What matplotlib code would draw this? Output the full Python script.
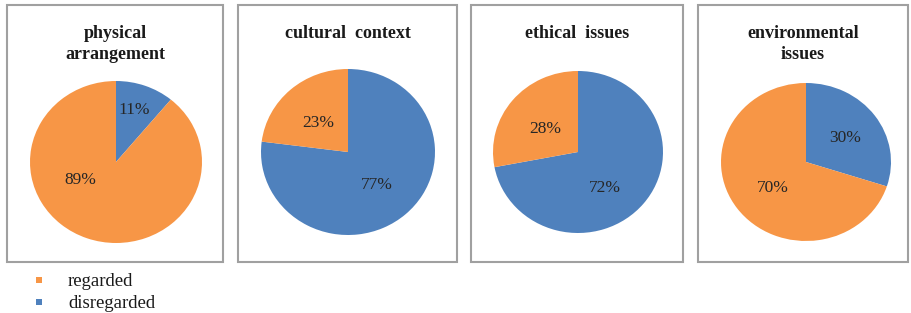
import matplotlib
matplotlib.use('Agg')
import matplotlib.pyplot as plt
from matplotlib.patches import Rectangle

plt.rcParams['font.family'] = ['Liberation Serif', 'DejaVu Serif']

# data
titles = ['physical\narrangement', 'cultural  context', 'ethical  issues', 'environmental\nissues']
regarded = [89, 23, 28, 70]
disregarded = [11, 77, 72, 30]
legend_labels = ['regarded', 'disregarded']
colors = {'regarded': '#F79646', 'disregarded': '#4F81BD'}

W, H = 911, 313
fig = plt.figure(figsize=(W / 100, H / 100), dpi=100)

# layout in pixels: box left/right, pie centre + radii
boxes = [(7, 223), (238, 457), (471, 683), (698, 908)]
pies = [(116, 162, 86, 81), (348, 152, 87, 83), (578, 152, 85, 81), (806, 162, 85, 79)]
# label offsets (disregarded, regarded) in pie-radius units, Excel-style placement
label_pos = [[(0.21, 0.64), (-0.41, -0.22)],
             [(0.33, -0.40), (-0.34, 0.35)],
             [(0.32, -0.44), (-0.39, 0.29)],
             [(0.46, 0.30), (-0.39, -0.33)]]
box_top, box_bottom = 5, 262

for i in range(4):
    l, r = boxes[i]
    fig.patches.append(Rectangle((l / W, 1 - box_bottom / H), (r - l) / W, (box_bottom - box_top) / H,
                                 transform=fig.transFigure, fill=False, edgecolor='#A0A0A0', linewidth=1.5))
    cx = (l + r) / 2
    fig.text(cx / W, 1 - 25 / H, titles[i], ha='center', va='top', fontsize=13,
             fontweight='bold', linespacing=1.28, color='#1a1a1a')

    pcx, pcy, rx, ry = pies[i]
    ax = fig.add_axes([(pcx - rx) / W, 1 - (pcy + ry) / H, 2 * rx / W, 2 * ry / H])
    vals = [disregarded[i], regarded[i]]
    wedges, texts, autotexts = ax.pie(vals, colors=[colors['disregarded'], colors['regarded']],
                                      startangle=90, counterclock=False, autopct='%d%%',
                                      textprops={'fontsize': 12.5, 'color': '#262626'},
                                      wedgeprops={'linewidth': 0})
    for t, p in zip(autotexts, label_pos[i]):
        t.set_position(p)
    ax.set_xlim(-1, 1)
    ax.set_ylim(-1, 1)
    ax.set_aspect('auto')
    ax.axis('off')

# legend
for j, lab in enumerate(legend_labels):
    y = 280 + j * 22
    fig.patches.append(Rectangle((36 / W, 1 - (y + 3) / H), 6 / W, 6 / H, transform=fig.transFigure,
                                 facecolor=colors[lab], edgecolor='none'))
    fig.text(68 / W, 1 - (y + 2) / H, lab, ha='left', va='center', fontsize=13.5, color='#1a1a1a')

fig.savefig('out.png', dpi=100)
